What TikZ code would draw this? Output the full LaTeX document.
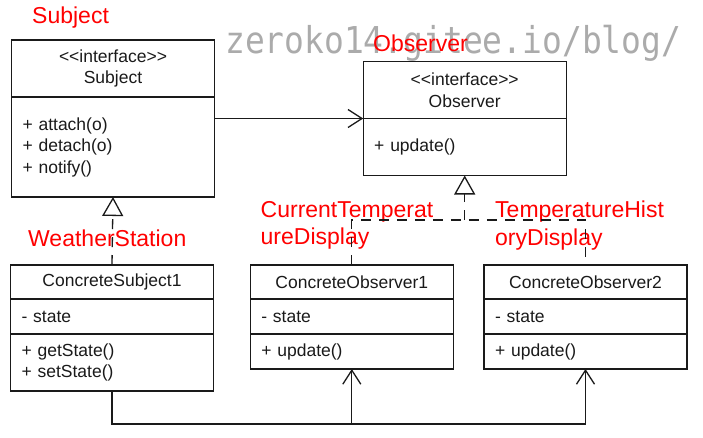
\documentclass[tikz,border=0pt]{standalone}
\usepackage{fontspec}
\setmainfont{Liberation Sans}
\newfontfamily\wmfont{DejaVu Sans Mono}
\usepackage{xcolor}
\usepackage{tikz}
\usetikzlibrary{arrows.meta,positioning,calc}
\definecolor{umlink}{HTML}{1A1A1A}
\definecolor{tagred}{HTML}{FF0000}
\definecolor{wmgray}{HTML}{ABABAB}
\newcommand\umlfont{\fontsize{17.5}{21.5}\selectfont}
\newcommand\tagfont{\fontsize{23}{27.3}\selectfont}
\newcommand\stereo[1]{<{}<#1>{}>}
\tikzset{
  cls/.style    ={draw=umlink,line width=1.3pt,minimum width=203pt,outer sep=0pt,
                  inner xsep=11pt,inner ysep=0pt,font=\umlfont,text=umlink},
  chead/.style  ={cls,align=center},
  cpart/.style  ={cls,text width=181pt,align=left},
  redtag/.style ={anchor=west,inner sep=0pt,text=tagred,font=\tagfont,align=left},
  wmark/.style  ={anchor=base west,inner sep=0pt,text=wmgray,
                  font=\wmfont\fontsize{37}{37}\selectfont,xscale=0.89},
  dashline/.style={line width=1.3pt,draw=umlink,dash pattern=on 10pt off 8pt},
  realize/.style={dashline,-{Triangle[open,length=19pt,width=21pt]}},
  assoc/.style  ={-{Straight Barb[length=14pt,width=18pt]},line width=1.3pt,draw=umlink}
}

\begin{document}
\begin{tikzpicture}[x=1pt,y=-1pt]
    \useasboundingbox (0,0) rectangle (703,437);
    % --- watermark and red tags ---
    \node[wmark] (wm) at (225,53) {zeroko14.gitee.io/blog/};
    \node[redtag] (subjTag) at (32,18) {Subject};
    \node[redtag] (obsTag) at (373,43) {Observer};
    \node[redtag] (cs1Tag) at (28,238) {WeatherStation};
    \node[redtag] (co1Tag) at (260.5,225.4) {CurrentTemperat\\ureDisplay};
    \node[redtag] (co2Tag) at (495,225.4) {TemperatureHist\\oryDisplay};
    % --- interfaces ---
    \node[chead,minimum height=57pt] (subjH) at (113,68.5)
      {\stereo{interface}\\Subject};
    \node[cpart,minimum height=100pt,below=0pt of subjH] (subjB)
      {+ attach(o)\\+ detach(o)\\+ notify()};
    \node[chead,minimum height=57pt] (obsH) at (464.7,90)
      {\stereo{interface}\\Observer};
    \node[cpart,minimum height=57pt,below=0pt of obsH] (obsB) {+ update()};
    % --- concrete classes ---
    \node[chead,minimum height=34pt] (cs1H) at (112,282) {ConcreteSubject1};
    \node[cpart,minimum height=35pt,below=0pt of cs1H] (cs1A) {- state};
    \node[cpart,minimum height=57pt,below=0pt of cs1A] (cs1M)
      {+ getState()\\+ setState()};
    \node[chead,minimum height=34pt] (co1H) at (351.8,282) {ConcreteObserver1};
    \node[cpart,minimum height=35pt,below=0pt of co1H] (co1A) {- state};
    \node[cpart,minimum height=35pt,below=0pt of co1A] (co1M) {+ update()};
    \node[chead,minimum height=34pt] (co2H) at (585.5,282) {ConcreteObserver2};
    \node[cpart,minimum height=35pt,below=0pt of co2H] (co2A) {- state};
    \node[cpart,minimum height=35pt,below=0pt of co2A] (co2M) {+ update()};
    % --- relations ---
    \draw[assoc] (obsH.south west -| subjB.east) -- (obsH.south west);
    \draw[realize] (cs1H.north) -- (subjB.south);
    \coordinate (obsJoin) at ($(obsB.south)+(0,44.5)$);
    \draw[dashline] (co1H.north) |- (obsJoin) -| (co2H.north);
    \draw[realize] (obsJoin) -- (obsB.south);
    % notify: subject down, along the bottom, up into each observer
    \coordinate (busL) at ($(cs1M.south)+(0,33)$);
    \draw[assoc] (cs1M.south) -- (busL) -| (co2M.south);
    \draw[assoc] (co1M.south |- busL) -- (co1M.south);
  \end{tikzpicture}
\end{document}
